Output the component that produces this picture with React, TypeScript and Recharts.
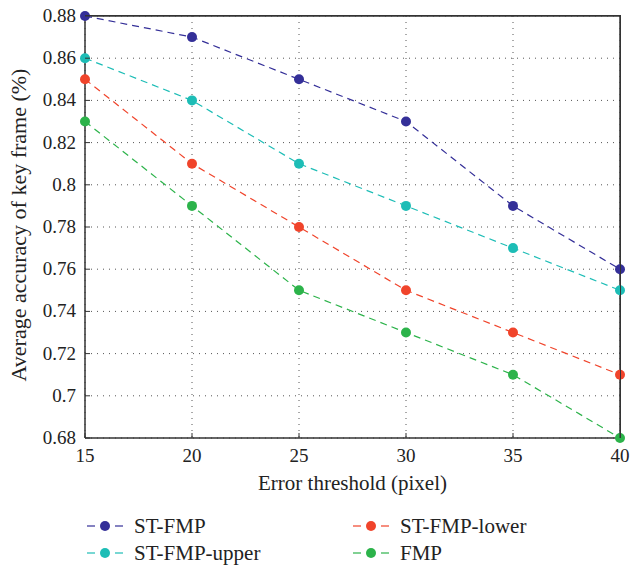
import React from "react";
import {
  LineChart,
  Line,
  XAxis,
  YAxis,
  CartesianGrid,
  ReferenceLine,
} from "recharts";

const thresholds = [15, 20, 25, 30, 35, 40];
const stFmp = [0.88, 0.87, 0.85, 0.83, 0.79, 0.76];
const stFmpUpper = [0.86, 0.84, 0.81, 0.79, 0.77, 0.75];
const stFmpLower = [0.85, 0.81, 0.78, 0.75, 0.73, 0.71];
const fmp = [0.83, 0.79, 0.75, 0.73, 0.71, 0.68];
const yTicks = [0.68, 0.7, 0.72, 0.74, 0.76, 0.78, 0.8, 0.82, 0.84, 0.86, 0.88];

const data = thresholds.map((t, i) => ({
  t,
  stFmp: stFmp[i],
  upper: stFmpUpper[i],
  lower: stFmpLower[i],
  fmp: fmp[i],
}));

const series = [
  { key: "stFmp", name: "ST-FMP", color: "#342f98" },
  { key: "upper", name: "ST-FMP-upper", color: "#1dbdb6" },
  { key: "lower", name: "ST-FMP-lower", color: "#f0442b" },
  { key: "fmp", name: "FMP", color: "#2cb34a" },
];

if (typeof document !== "undefined") {
  document.body.style.margin = "0";
}

const FONT = "Liberation Serif";
const AXIS = "#333";
const textStyle = { fontFamily: FONT };

const W = 631;
const H = 569;
const M = { top: 16, right: 11, bottom: 79, left: 10 };
const Y_AXIS_W = 75;
const X_AXIS_H = 52;

const fmt = (v: number) => String(parseFloat(v.toFixed(2)));

const BottomTick = ({ x, y, payload }: any) => (
  <g>
    <line x1={x} x2={x} y1={y} y2={y - 5} stroke={AXIS} />
    <text x={x} y={y + 24} textAnchor="middle" fontSize={19} fill="#222" style={textStyle}>
      {fmt(payload.value)}
    </text>
  </g>
);

const LeftTick = ({ x, y, payload }: any) => (
  <g>
    <line x1={x} x2={x + 5} y1={y} y2={y} stroke={AXIS} />
    <text x={x - 9} y={y + 6} textAnchor="end" fontSize={19} fill="#222" style={textStyle}>
      {fmt(payload.value)}
    </text>
  </g>
);

const YLabel = ({ viewBox }: any) => {
  const cy = viewBox.y + viewBox.height / 2 - 2;
  return (
    <text
      x={18}
      y={cy}
      transform={`rotate(-90, 18, ${cy})`}
      textAnchor="middle"
      dominantBaseline="central"
      fontSize={22}
      fill="#222"
      style={textStyle}
    >
      Average accuracy of key frame (%)
    </text>
  );
};

const XLabel = ({ viewBox }: any) => (
  <text
    x={viewBox.x + viewBox.width / 2}
    y={490}
    textAnchor="middle"
    fontSize={21}
    fill="#222"
    style={textStyle}
  >
    Error threshold (pixel)
  </text>
);

const LegendMarker = ({ color }: { color: string }) => (
  <svg width={36} height={14}>
    <line x1={0} x2={8} y1={7} y2={7} stroke={color} strokeWidth={1.2} />
    <circle cx={18} cy={7} r={5} fill={color} />
    <line x1={28} x2={36} y1={7} y2={7} stroke={color} strokeWidth={1.2} />
  </svg>
);

const ChartLegend = () => {
  const cols = [
    [series[0], series[1]],
    [series[2], series[3]],
  ];
  const colLeft = [87, 353];
  return (
    <div style={{ position: "absolute", left: 0, top: 514, width: W, height: 52 }}>
      {cols.map((col, ci) =>
        col.map((s, ri) => (
          <div
            key={s.key}
            style={{
              position: "absolute",
              left: colLeft[ci],
              top: ri * 27,
              display: "flex",
              alignItems: "center",
              fontFamily: FONT,
              fontSize: 21,
              color: "#222",
              lineHeight: "24px",
            }}
          >
            <LegendMarker color={s.color} />
            <span style={{ marginLeft: 11 }}>{s.name}</span>
          </div>
        ))
      )}
    </div>
  );
};

// top and right edges of the plot box
const Frame = () => {
  const left = M.left + Y_AXIS_W;
  const top = M.top;
  const width = W - M.right - left;
  const height = H - M.bottom - X_AXIS_H - top;
  return (
    <div
      style={{
        position: "absolute",
        left,
        top: top - 1,
        width: width + 1,
        height: height + 1,
        borderTop: `1.5px solid ${AXIS}`,
        borderRight: `1.5px solid ${AXIS}`,
        boxSizing: "border-box",
        pointerEvents: "none",
      }}
    />
  );
};

export default function App() {
  return (
    <div style={{ width: W, height: H, background: "#fff", position: "relative", overflow: "hidden" }}>
      <LineChart width={W} height={H} data={data} margin={M}>
        <CartesianGrid stroke="#555" strokeDasharray="1 5" />
        <XAxis
          dataKey="t"
          type="number"
          domain={[15, 40]}
          ticks={thresholds}
          height={X_AXIS_H}
          tickSize={0}
          tickMargin={0}
          tickLine={false}
          axisLine={{ stroke: AXIS, strokeWidth: 1.5 }}
          tick={<BottomTick />}
          label={<XLabel />}
        />
        <YAxis
          type="number"
          domain={[0.68, 0.88]}
          ticks={yTicks}
          width={Y_AXIS_W}
          tickSize={0}
          tickMargin={0}
          tickLine={false}
          axisLine={{ stroke: AXIS, strokeWidth: 1.5 }}
          tick={<LeftTick />}
          label={<YLabel />}
        />
        <ReferenceLine y={0.88} stroke={AXIS} strokeWidth={1.5} ifOverflow="visible" />
        <ReferenceLine x={40} stroke={AXIS} strokeWidth={1.5} ifOverflow="visible" />
        {series.map((s) => (
          <Line
            key={s.key}
            dataKey={s.key}
            name={s.name}
            stroke={s.color}
            strokeWidth={1.2}
            strokeDasharray="7 5"
            dot={{ r: 5, fill: s.color, stroke: s.color, strokeWidth: 0 }}
            activeDot={false}
            isAnimationActive={false}
          />
        ))}
      </LineChart>
      <Frame />
      <ChartLegend />
    </div>
  );
}
